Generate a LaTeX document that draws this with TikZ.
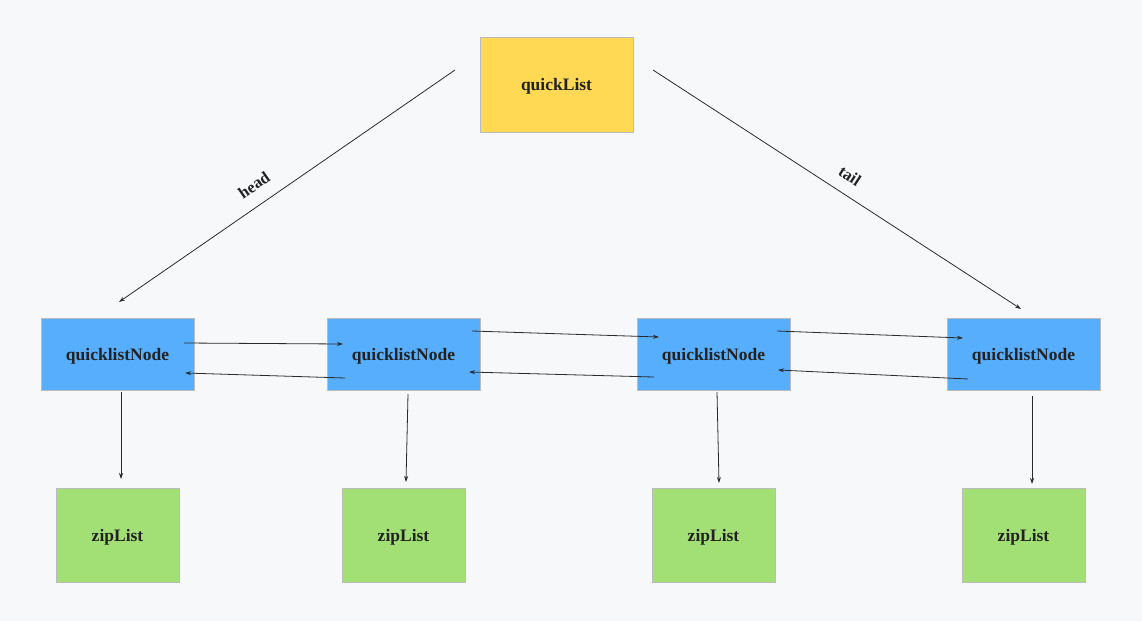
\documentclass[tikz,border=0pt]{standalone}
\usepackage{fontspec}
\setmainfont{Liberation Serif}
\usetikzlibrary{arrows.meta,calc}
\definecolor{bg}{HTML}{F7F8FA}
\definecolor{qyel}{HTML}{FFD954}
\definecolor{qblue}{HTML}{57AEFD}
\definecolor{zgreen}{HTML}{A2DF75}
\definecolor{edge}{HTML}{BBBBBB}
\definecolor{txt}{HTML}{222222}
\definecolor{arr}{HTML}{2A2A2A}
\newcommand{\lowtxt}[1]{\raisebox{-2pt}[\height][\depth]{#1}}
\tikzset{
  box/.style={draw=edge, line width=0.6pt, inner sep=0pt, font=\fontsize{17.5}{20}\selectfont\bfseries, text=txt},
  qbox/.style={box, fill=qyel, minimum width=153pt, minimum height=95pt},
  nbox/.style={box, fill=qblue, minimum width=153pt, minimum height=72pt},
  zbox/.style={box, fill=zgreen, minimum width=123pt, minimum height=94pt},
  link/.style={draw=arr, line width=0.8pt, -{Stealth[length=6pt,width=4pt]}},
  lbl/.style={font=\fontsize{16.5}{19}\selectfont\bfseries, text=txt, inner sep=0.5pt}
}
\begin{document}
\begin{tikzpicture}[x=1pt,y=-1pt]
\fill[bg] (0,0) rectangle (1142,621);
\useasboundingbox (0,0) rectangle (1142,621);
\node[qbox] (q) at (556.5,84.5) {\lowtxt{quickList}};
\node[nbox] (n1) at (117.5,354) {\lowtxt{quicklistNode}};
\node[nbox] (n2) at (403.5,354) {\lowtxt{quicklistNode}};
\node[nbox] (n3) at (713.5,354) {\lowtxt{quicklistNode}};
\node[nbox] (n4) at (1023.5,354) {\lowtxt{quicklistNode}};
\node[zbox] (z1) at (117.5,535) {\lowtxt{zipList}};
\node[zbox] (z2) at (403.5,535) {\lowtxt{zipList}};
\node[zbox] (z3) at (713.5,535) {\lowtxt{zipList}};
\node[zbox] (z4) at (1023.5,535) {\lowtxt{zipList}};
% head / tail
\draw[link] ($(q.center)+(-101.5,-14.5)$) -- ($(n1.center)+(1.5,-52)$);
\draw[link] ($(q.center)+(96.5,-14.5)$) -- ($(n4.center)+(-2.5,-45)$);
\node[lbl, rotate=34.6] (hl) at (254,185) {head};
\node[lbl, rotate=-33] (tl) at (850,176) {tail};
% forward links
\draw[link] ($(n1.center)+(66.5,-11)$) -- ($(n2.center)+(-60.5,-10)$);
\draw[link] ($(n2.center)+(68.5,-23)$) -- ($(n3.center)+(-54.5,-17)$);
\draw[link] ($(n3.center)+(63.5,-23)$) -- ($(n4.center)+(-60.5,-16)$);
% backward links
\draw[link] ($(n2.center)+(-58.5,24)$) -- ($(n1.center)+(67.5,19)$);
\draw[link] ($(n3.center)+(-59.5,23)$) -- ($(n2.center)+(65.5,18)$);
\draw[link] ($(n4.center)+(-55.5,25)$) -- ($(n3.center)+(64.5,16)$);
% down links
\draw[link] ($(n1.center)+(3.5,38)$) -- ($(z1.center)+(3.5,-56)$);
\draw[link] ($(n2.center)+(4.5,40)$) -- ($(z2.center)+(2.5,-53)$);
\draw[link] ($(n3.center)+(3.5,38)$) -- ($(z3.center)+(5.5,-52)$);
\draw[link] ($(n4.center)+(8.5,42)$) -- ($(z4.center)+(8.5,-51)$);
\end{tikzpicture}
\end{document}
